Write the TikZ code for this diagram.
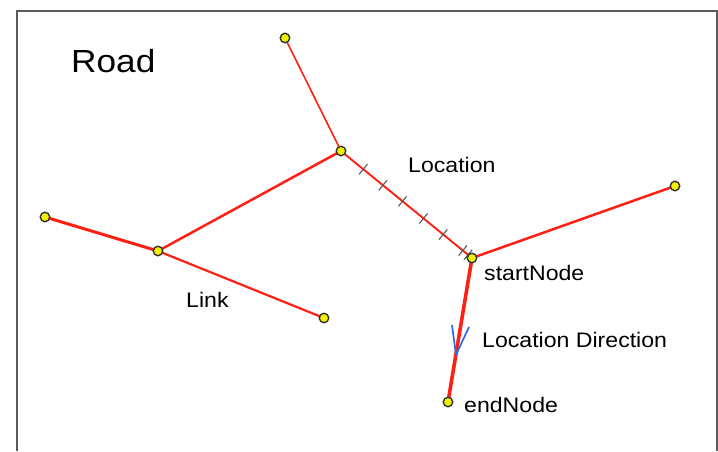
\documentclass[tikz,border=0pt]{standalone}
\usepackage{fontspec}
\setmainfont{Liberation Sans}
\usetikzlibrary{calc}
\definecolor{roadred}{RGB}{255,32,20}
\definecolor{dotyellow}{RGB}{240,240,0}
\definecolor{framegray}{RGB}{90,90,90}
\definecolor{tickgray}{RGB}{90,90,90}
\definecolor{dirblue}{RGB}{40,110,230}
\newcommand\stretchtxt[1]{\scalebox{1.1}[1]{#1}}
\begin{document}
\begin{tikzpicture}[x=1pt,y=-1pt,
  dot/.style={circle,fill=dotyellow,draw=black!80,line width=1.4pt,inner sep=0pt,minimum size=9.5pt},
  road/.style={draw=roadred,line cap=round},
  lbl/.style={font=\fontsize{21}{25}\selectfont,inner sep=0pt,anchor=base west,text=black},
  tickmark/.style={draw=tickgray,line width=1.1pt},
  dirarrow/.style={draw=dirblue,line width=1.7pt,line join=round}]
\useasboundingbox (0,0) rectangle (718,451);
\fill[white] (0,0) rectangle (718,451);
% frame
\draw[framegray,line width=1.5pt] (17,451) -- (17,11) -- (717,11) -- (717,451);
% coordinates of nodes
\coordinate (top) at (285,38);
\coordinate (A) at (341,151);
\coordinate (L) at (45,217);
\coordinate (B) at (158,251);
\coordinate (Lb) at (324,318);
\coordinate (S) at (472,258);
\coordinate (R) at (675,186);
\coordinate (E) at (448,402);
% roads
\draw[road,line width=1.6pt] (top) -- (A);
\draw[road,line width=2.5pt] (A) -- (B);
\draw[road,line width=3pt] (L) -- (B);
\draw[road,line width=2.2pt] (B) -- (Lb);
\draw[road,line width=1.9pt] (A) -- (S);
\draw[road,line width=2.5pt] (S) -- (R);
\draw[road,line width=3.6pt] (S) -- (E);
% ticks along location
\foreach \p/\n in {0.17/t1,0.32/t2,0.47/t3,0.63/t4,0.78/t5,0.93/t6,0.97/t7}{
  \path (A) -- (S) coordinate[pos=\p] (\n);
  \draw[tickmark] ($(\n)!6.5pt!90:(S)$) -- ($(\n)!6.5pt!-90:(S)$);
}
% direction arrow
\coordinate (apex) at (456,355);
\coordinate (armL) at (452,325);
\coordinate (armR) at (469,327);
\draw[dirarrow] (armL) -- (apex) -- (armR);
% dots
\foreach \c in {top,A,L,B,Lb,S,R,E}{
  \node[dot] (d\c) at (\c) {};
}
% labels
\node[lbl,font=\fontsize{32}{38}\selectfont] (road) at (71,72) {\stretchtxt{Road}};
\node[lbl] (loc) at (408,172) {\stretchtxt{Location}};
\node[lbl] (start) at (484,280) {\stretchtxt{startNode}};
\node[lbl] (dir) at (482,347) {\stretchtxt{Location Direction}};
\node[lbl] (end) at (464,412) {\stretchtxt{endNode}};
\node[lbl] (link) at (186,307) {\stretchtxt{Link}};
\end{tikzpicture}
\end{document}
